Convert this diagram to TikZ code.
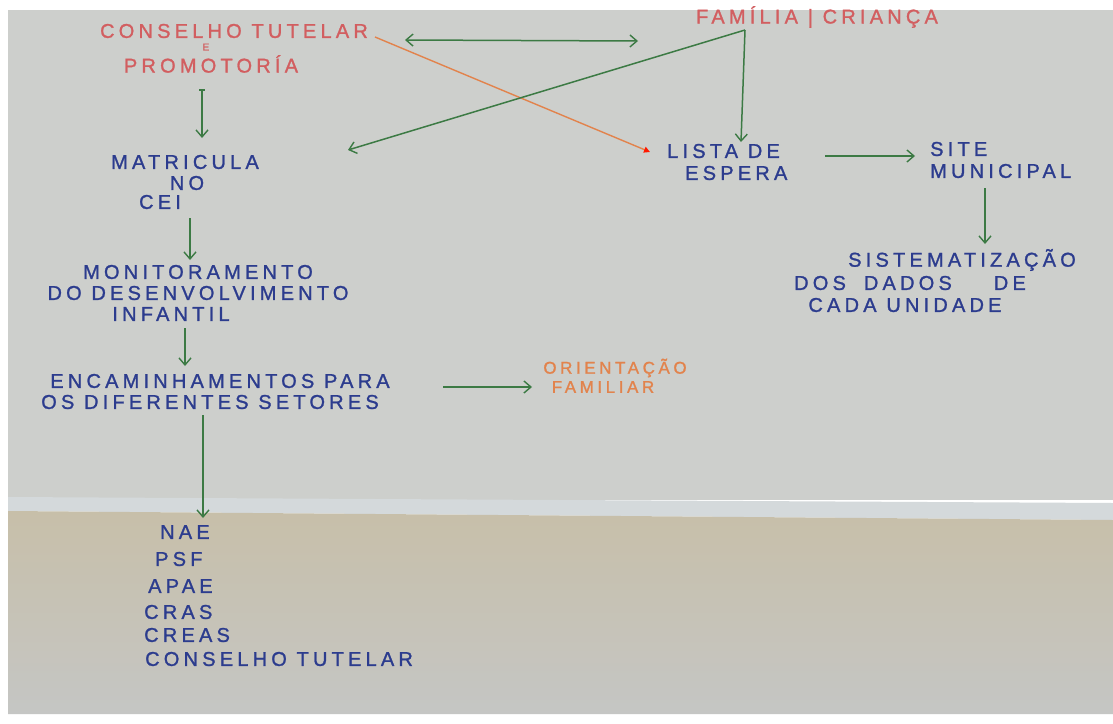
\documentclass[tikz,border=0pt]{standalone}
\usepackage{fontspec}
\setmainfont{Liberation Sans}
\newfontfamily\hand[LetterSpace=21,FakeBold=1.2]{Liberation Sans}
\usetikzlibrary{arrows.meta}
\definecolor{paper}{HTML}{CDCFCC}
\definecolor{foldlight}{HTML}{D4D9DB}
\definecolor{beige}{HTML}{C7BFA9}
\definecolor{paperlow}{HTML}{C5C6C4}
\definecolor{penred}{HTML}{D25E60}
\definecolor{penblue}{HTML}{2C3C8E}
\definecolor{pengreen}{HTML}{3C7A44}
\definecolor{penorange}{HTML}{E2834C}
\begin{document}
\begin{tikzpicture}[x=1pt,y=-1pt,
  lbl/.style={font=\hand\fontsize{20}{22}\selectfont, inner sep=0pt},
  red/.style={lbl, text=penred},
  blue/.style={lbl, text=penblue},
  orng/.style={lbl, text=penorange},
  barb/.tip={Straight Barb[length=7pt,width=12pt,line width=1.4pt]},
  garrow/.style={draw=pengreen, line width=1.5pt, -barb},
  oarrow/.style={draw=penorange, line width=1.4pt, -{Triangle[length=6pt,width=6pt,color=red!80!orange]}}]
\useasboundingbox (0,0) rectangle (1113,723);
% sheet of paper with its fold
\fill[white] (0,0) rectangle (1113,723);
\fill[paper] (8,10) rectangle (1113,500);
\fill[foldlight] (8,497) -- (1113,503) -- (1113,520) -- (8,511) -- cycle;
\shade[top color=beige, bottom color=paperlow] (8,511) -- (1113,520) -- (1113,714) -- (8,714) -- cycle;

% top row
\node[red] (ct1) at (234,31) {CONSELHO TUTELAR};
\node[red, font=\hand\fontsize{10}{10}\selectfont] (cte) at (206,47) {E};
\node[red] (ct2) at (211,64) {PROMOTORÍA};
\node[red] (fam) at (817,17) {FAMÍLIA | CRIANÇA};

% left column
\node[blue] (mat1) at (185,162) {MATRICULA};
\node[blue] (mat2) at (187,183) {NO};
\node[blue] (mat3) at (160,202) {CEI};
\node[blue] (mon1) at (198,272) {MONITORAMENTO};
\node[blue] (mon2) at (198,293) {DO DESENVOLVIMENTO};
\node[blue] (mon3) at (171,314) {INFANTIL};
\node[blue] (enc1) at (220,381) {ENCAMINHAMENTOS PARA};
\node[blue] (enc2) at (210,402) {OS DIFERENTES SETORES};
\node[orng, font=\hand\fontsize{17}{19}\selectfont] (ori1) at (615,368) {ORIENTAÇÃO};
\node[orng, font=\hand\fontsize{17}{19}\selectfont] (ori2) at (603,387) {FAMILIAR};

% list of services
\node[blue, anchor=west] (s1) at (160,532) {NAE};
\node[blue, anchor=west] (s2) at (155,559) {PSF};
\node[blue, anchor=west] (s3) at (148,586) {APAE};
\node[blue, anchor=west] (s4) at (144,612) {CRAS};
\node[blue, anchor=west] (s5) at (144,635) {CREAS};
\node[blue, anchor=west] (s6) at (145,659) {CONSELHO TUTELAR};

% right column
\node[blue, anchor=west] (le1) at (667,151) {LISTA DE};
\node[blue, anchor=west] (le2) at (685,173) {ESPERA};
\node[blue, anchor=west] (st1) at (930,149) {SITE};
\node[blue, anchor=west] (st2) at (930,171) {MUNICIPAL};
\node[blue] (sd1) at (962,260) {SISTEMATIZAÇÃO};
\node[blue] (sd2) at (910,283) {DOS\hspace{18pt}DADOS\hspace{42pt}DE};
\node[blue] (sd3) at (905,305) {CADA UNIDADE};

% arrow ends beside the labels
\coordinate (ctR) at (405,40);
\coordinate (famL) at (638,41);
\coordinate (ctTail) at (375,37);
\coordinate (famFoot) at (745,30);
\coordinate (matR) at (348,150);
\coordinate (leTop) at (741,142);
\coordinate (leL) at (650,152);
\coordinate (ctDown) at (202,90);
\coordinate (matUp) at (202,138);
\coordinate (matDown) at (190,218);
\coordinate (monUp) at (190,260);
\coordinate (monDown) at (185,328);
\coordinate (encUp) at (185,366);
\coordinate (encDown) at (203,415);
\coordinate (nacUp) at (203,518);
\coordinate (encR) at (443,387);
\coordinate (oriL) at (532,387);
\coordinate (leR) at (825,156);
\coordinate (stL) at (915,156);
\coordinate (stDown) at (985,188);
\coordinate (sdUp) at (985,244);

% connectors
\draw[garrow, barb-barb] (ctR) -- (famL);
\draw[oarrow] (ctTail) -- (leL);
\draw[garrow] (famFoot) -- (matR);
\draw[garrow] (famFoot) -- (leTop);
\draw[garrow] (ctDown) -- (matUp);
\draw[pengreen, line width=1.4pt] ([xshift=-3pt]ctDown) -- ([xshift=3pt]ctDown);
\draw[garrow] (matDown) -- (monUp);
\draw[garrow] (monDown) -- (encUp);
\draw[garrow] (encDown) -- (nacUp);
\draw[garrow] (encR) -- (oriL);
\draw[garrow] (leR) -- (stL);
\draw[garrow] (stDown) -- (sdUp);
\end{tikzpicture}
\end{document}
